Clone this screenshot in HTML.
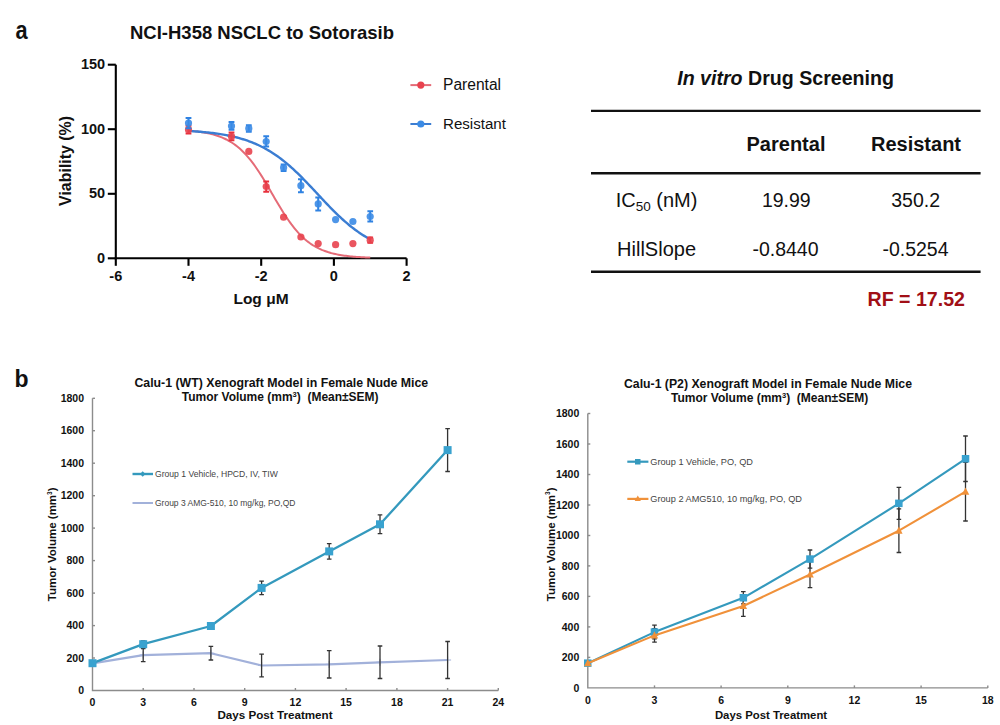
<!DOCTYPE html>
<html><head><meta charset="utf-8"><title>Figure</title>
<style>
html,body{margin:0;padding:0;background:#fff;}
body{width:1000px;height:725px;overflow:hidden;}
svg{display:block;font-family:"Liberation Sans", Arial, sans-serif;}
</style></head><body>
<svg width="1000" height="725" viewBox="0 0 1000 725" fill="#111">
<text transform="translate(15.5 39.3) scale(0.87 1)" font-size="25" font-weight="bold">a</text>
<text x="130" y="38.6" font-size="18.5" font-weight="bold" textLength="264" lengthAdjust="spacingAndGlyphs">NCI-H358 NSCLC to Sotorasib</text>
<g stroke="#000" stroke-width="2.1" fill="none">
<path d="M115.8 64.7 V259.3"/>
<path d="M114.8 258.3 H406.6"/>
<path d="M107.8 64.7 H115.8"/>
<path d="M107.8 129.2 H115.8"/>
<path d="M107.8 193.8 H115.8"/>
<path d="M107.8 258.3 H115.8"/>
<path d="M115.8 258.3 V265.8"/>
<path d="M188.5 258.3 V265.8"/>
<path d="M261.2 258.3 V265.8"/>
<path d="M333.9 258.3 V265.8"/>
<path d="M406.6 258.3 V265.8"/>
</g>
<text x="105.2" y="69.3" font-size="14.5" font-weight="bold" text-anchor="end">150</text>
<text x="105.2" y="133.8" font-size="14.5" font-weight="bold" text-anchor="end">100</text>
<text x="105.2" y="198.3" font-size="14.5" font-weight="bold" text-anchor="end">50</text>
<text x="105.2" y="262.9" font-size="14.5" font-weight="bold" text-anchor="end">0</text>
<text x="115.8" y="281.2" font-size="14.5" font-weight="bold" text-anchor="middle">-6</text>
<text x="188.5" y="281.2" font-size="14.5" font-weight="bold" text-anchor="middle">-4</text>
<text x="261.2" y="281.2" font-size="14.5" font-weight="bold" text-anchor="middle">-2</text>
<text x="333.9" y="281.2" font-size="14.5" font-weight="bold" text-anchor="middle">0</text>
<text x="406.6" y="281.2" font-size="14.5" font-weight="bold" text-anchor="middle">2</text>
<text x="261" y="304.2" font-size="15.5" font-weight="bold" text-anchor="middle">Log μM</text>
<text transform="translate(70.9 160.9) rotate(-90)" font-size="15.8" font-weight="bold" text-anchor="middle" textLength="90" lengthAdjust="spacingAndGlyphs">Viability (%)</text>
<path d="M188.50,130.66 L190.01,130.78 L191.53,130.91 L193.04,131.05 L194.56,131.21 L196.07,131.38 L197.59,131.56 L199.10,131.75 L200.62,131.96 L202.13,132.19 L203.65,132.43 L205.16,132.70 L206.68,132.99 L208.19,133.29 L209.70,133.63 L211.22,133.99 L212.73,134.38 L214.25,134.79 L215.76,135.24 L217.28,135.73 L218.79,136.25 L220.31,136.81 L221.82,137.41 L223.34,138.05 L224.85,138.74 L226.36,139.48 L227.88,140.28 L229.39,141.12 L230.91,142.03 L232.42,143.00 L233.94,144.03 L235.45,145.12 L236.97,146.29 L238.48,147.53 L240.00,148.84 L241.51,150.22 L243.03,151.69 L244.54,153.23 L246.05,154.85 L247.57,156.56 L249.08,158.35 L250.60,160.21 L252.11,162.16 L253.63,164.19 L255.14,166.29 L256.66,168.47 L258.17,170.72 L259.69,173.03 L261.20,175.40 L262.71,177.83 L264.23,180.31 L265.74,182.83 L267.26,185.38 L268.77,187.97 L270.29,190.57 L271.80,193.18 L273.32,195.79 L274.83,198.40 L276.35,200.99 L277.86,203.55 L279.38,206.09 L280.89,208.59 L282.40,211.04 L283.92,213.44 L285.43,215.78 L286.95,218.05 L288.46,220.26 L289.98,222.40 L291.49,224.46 L293.01,226.44 L294.52,228.34 L296.04,230.17 L297.55,231.91 L299.06,233.57 L300.58,235.15 L302.09,236.64 L303.61,238.06 L305.12,239.41 L306.64,240.68 L308.15,241.87 L309.67,243.00 L311.18,244.06 L312.70,245.05 L314.21,245.98 L315.73,246.86 L317.24,247.67 L318.75,248.44 L320.27,249.15 L321.78,249.82 L323.30,250.44 L324.81,251.01 L326.33,251.55 L327.84,252.05 L329.36,252.51 L330.87,252.95 L332.39,253.35 L333.90,253.72 L335.41,254.06 L336.93,254.38 L338.44,254.68 L339.96,254.95 L341.47,255.21 L342.99,255.44 L344.50,255.66 L346.02,255.86 L347.53,256.05 L349.05,256.22 L350.56,256.38 L352.07,256.53 L353.59,256.66 L355.10,256.79 L356.62,256.90 L358.13,257.01 L359.65,257.11 L361.16,257.20 L362.68,257.29 L364.19,257.37 L365.71,257.44 L367.22,257.50 L368.74,257.57 L370.25,257.62" stroke="#e56b77" stroke-width="2" fill="none"/>
<path d="M188.50,130.95 L190.01,131.04 L191.53,131.13 L193.04,131.23 L194.56,131.33 L196.07,131.44 L197.59,131.56 L199.10,131.68 L200.62,131.80 L202.13,131.93 L203.65,132.07 L205.16,132.22 L206.68,132.37 L208.19,132.53 L209.70,132.69 L211.22,132.87 L212.73,133.05 L214.25,133.25 L215.76,133.45 L217.28,133.66 L218.79,133.88 L220.31,134.12 L221.82,134.36 L223.34,134.62 L224.85,134.88 L226.36,135.16 L227.88,135.46 L229.39,135.76 L230.91,136.09 L232.42,136.42 L233.94,136.77 L235.45,137.14 L236.97,137.52 L238.48,137.93 L240.00,138.34 L241.51,138.78 L243.03,139.24 L244.54,139.72 L246.05,140.21 L247.57,140.73 L249.08,141.27 L250.60,141.83 L252.11,142.42 L253.63,143.03 L255.14,143.67 L256.66,144.33 L258.17,145.01 L259.69,145.73 L261.20,146.47 L262.71,147.23 L264.23,148.03 L265.74,148.86 L267.26,149.71 L268.77,150.59 L270.29,151.51 L271.80,152.46 L273.32,153.43 L274.83,154.44 L276.35,155.48 L277.86,156.55 L279.38,157.65 L280.89,158.79 L282.40,159.95 L283.92,161.15 L285.43,162.38 L286.95,163.63 L288.46,164.92 L289.98,166.24 L291.49,167.58 L293.01,168.96 L294.52,170.36 L296.04,171.78 L297.55,173.23 L299.06,174.71 L300.58,176.20 L302.09,177.72 L303.61,179.26 L305.12,180.81 L306.64,182.38 L308.15,183.96 L309.67,185.56 L311.18,187.16 L312.70,188.78 L314.21,190.40 L315.73,192.02 L317.24,193.65 L318.75,195.27 L320.27,196.90 L321.78,198.52 L323.30,200.13 L324.81,201.74 L326.33,203.34 L327.84,204.92 L329.36,206.49 L330.87,208.05 L332.39,209.59 L333.90,211.11 L335.41,212.60 L336.93,214.08 L338.44,215.53 L339.96,216.96 L341.47,218.37 L342.99,219.74 L344.50,221.09 L346.02,222.41 L347.53,223.70 L349.05,224.97 L350.56,226.20 L352.07,227.40 L353.59,228.57 L355.10,229.71 L356.62,230.81 L358.13,231.89 L359.65,232.93 L361.16,233.94 L362.68,234.92 L364.19,235.87 L365.71,236.79 L367.22,237.68 L368.74,238.54 L370.25,239.37" stroke="#3b7dd2" stroke-width="2.4" fill="none"/>
<path d="M188.5 125.8 V133.6 M185.6 125.8 H191.4 M185.6 133.6 H191.4" stroke="#e8303c" stroke-width="2" fill="none"/>
<circle cx="188.5" cy="129.7" r="3.6" fill="#e8424e" fill-opacity="0.9"/>
<path d="M231.5 132.6 V140.3 M228.6 132.6 H234.4 M228.6 140.3 H234.4" stroke="#e8303c" stroke-width="2" fill="none"/>
<circle cx="231.5" cy="136.4" r="3.6" fill="#e8424e" fill-opacity="0.9"/>
<circle cx="248.8" cy="151.4" r="3.6" fill="#e8424e" fill-opacity="0.9"/>
<path d="M266.2 181.4 V191.7 M263.3 181.4 H269.1 M263.3 191.7 H269.1" stroke="#e8303c" stroke-width="2" fill="none"/>
<circle cx="266.2" cy="186.5" r="3.6" fill="#e8424e" fill-opacity="0.9"/>
<circle cx="283.6" cy="217.2" r="3.6" fill="#e8424e" fill-opacity="0.9"/>
<circle cx="300.9" cy="237.0" r="3.6" fill="#e8424e" fill-opacity="0.9"/>
<circle cx="318.2" cy="243.6" r="3.6" fill="#e8424e" fill-opacity="0.9"/>
<circle cx="335.6" cy="244.7" r="3.6" fill="#e8424e" fill-opacity="0.9"/>
<circle cx="352.9" cy="243.6" r="3.6" fill="#e8424e" fill-opacity="0.9"/>
<path d="M370.2 237.6 V242.8 M367.4 237.6 H373.1 M367.4 242.8 H373.1" stroke="#e8303c" stroke-width="2" fill="none"/>
<circle cx="370.2" cy="240.2" r="3.6" fill="#e8424e" fill-opacity="0.9"/>
<path d="M188.5 118.0 V128.3 M185.6 118.0 H191.4 M185.6 128.3 H191.4" stroke="#2f82e2" stroke-width="2" fill="none"/>
<circle cx="188.5" cy="123.1" r="3.6" fill="#3b8be5" fill-opacity="0.9"/>
<path d="M231.5 122.1 V129.8 M228.6 122.1 H234.4 M228.6 129.8 H234.4" stroke="#2f82e2" stroke-width="2" fill="none"/>
<circle cx="231.5" cy="126.0" r="3.6" fill="#3b8be5" fill-opacity="0.9"/>
<path d="M248.8 125.2 V131.7 M245.9 125.2 H251.7 M245.9 131.7 H251.7" stroke="#2f82e2" stroke-width="2" fill="none"/>
<circle cx="248.8" cy="128.4" r="3.6" fill="#3b8be5" fill-opacity="0.9"/>
<path d="M266.2 136.3 V146.6 M263.3 136.3 H269.1 M263.3 146.6 H269.1" stroke="#2f82e2" stroke-width="2" fill="none"/>
<circle cx="266.2" cy="141.5" r="3.6" fill="#3b8be5" fill-opacity="0.9"/>
<path d="M283.6 164.4 V170.9 M280.7 164.4 H286.5 M280.7 170.9 H286.5" stroke="#2f82e2" stroke-width="2" fill="none"/>
<circle cx="283.6" cy="167.7" r="3.6" fill="#3b8be5" fill-opacity="0.9"/>
<path d="M300.9 179.3 V192.2 M298.0 179.3 H303.8 M298.0 192.2 H303.8" stroke="#2f82e2" stroke-width="2" fill="none"/>
<circle cx="300.9" cy="185.7" r="3.6" fill="#3b8be5" fill-opacity="0.9"/>
<path d="M318.2 197.5 V210.4 M315.3 197.5 H321.1 M315.3 210.4 H321.1" stroke="#2f82e2" stroke-width="2" fill="none"/>
<circle cx="318.2" cy="203.9" r="3.6" fill="#3b8be5" fill-opacity="0.9"/>
<circle cx="335.6" cy="219.6" r="3.6" fill="#3b8be5" fill-opacity="0.9"/>
<circle cx="352.9" cy="221.5" r="3.6" fill="#3b8be5" fill-opacity="0.9"/>
<path d="M370.2 211.3 V221.6 M367.4 211.3 H373.1 M367.4 221.6 H373.1" stroke="#2f82e2" stroke-width="2" fill="none"/>
<circle cx="370.2" cy="216.5" r="3.6" fill="#3b8be5" fill-opacity="0.9"/>
<path d="M410.4 85.1 H431.2" stroke="#e56b77" stroke-width="2"/><circle cx="420.8" cy="85.1" r="3.6" fill="#e8424e"/>
<text x="443" y="90.4" font-size="15.6">Parental</text>
<path d="M410.4 124 H431.2" stroke="#3b7dd2" stroke-width="2"/><circle cx="420.8" cy="124" r="3.6" fill="#3b8be5"/>
<text x="443" y="129.2" font-size="15.1">Resistant</text>
<text x="785.6" y="84.8" font-size="19.6" font-weight="bold" text-anchor="middle"><tspan font-style="italic">In vitro</tspan> Drug Screening</text>
<g stroke="#111" stroke-width="2.4"><path d="M591 110.9 H980.6"/><path d="M591 173.2 H980.6"/><path d="M591 271.8 H980.6"/></g>
<text x="786" y="150.7" font-size="20" font-weight="bold" text-anchor="middle">Parental</text>
<text x="916" y="150.7" font-size="20" font-weight="bold" text-anchor="middle">Resistant</text>
<text x="615.7" y="207" font-size="20">IC<tspan font-size="13.5" dy="3.7">50</tspan><tspan dy="-3.7"> (nM)</tspan></text>
<text x="617.1" y="255.7" font-size="20">HillSlope</text>
<text x="786.3" y="206.6" font-size="19.5" text-anchor="middle">19.99</text>
<text x="915.6" y="206.6" font-size="19.5" text-anchor="middle">350.2</text>
<text x="785.5" y="255.5" font-size="19.5" text-anchor="middle">-0.8440</text>
<text x="915.5" y="255.5" font-size="19.5" text-anchor="middle">-0.5254</text>
<text x="965" y="305.9" font-size="19.6" font-weight="bold" text-anchor="end" fill="#a10f16">RF = 17.52</text>
<text x="14.6" y="386.5" font-size="23" font-weight="bold">b</text>
<text x="134.4" y="387.3" font-size="12" font-weight="bold" textLength="293.8" lengthAdjust="spacingAndGlyphs" style="white-space:pre">Calu-1 (WT) Xenograft Model in Female Nude Mice</text>
<text x="181.8" y="401.3" font-size="12" font-weight="bold" textLength="196.8" lengthAdjust="spacingAndGlyphs" style="white-space:pre">Tumor Volume (mm<tspan font-size="7.5" dy="-4">3</tspan><tspan dy="4">)  (Mean±SEM)</tspan></text>
<g stroke="#8c8c8c" stroke-width="1.4" fill="none">
<path d="M92.5 398.3 V690.5 H498.3"/>
<path d="M92.5 658.0 H95.0"/>
<path d="M92.5 625.6 H95.0"/>
<path d="M92.5 593.1 H95.0"/>
<path d="M92.5 560.6 H95.0"/>
<path d="M92.5 528.1 H95.0"/>
<path d="M92.5 495.7 H95.0"/>
<path d="M92.5 463.2 H95.0"/>
<path d="M92.5 430.7 H95.0"/>
<path d="M92.5 398.3 H95.0"/>
<path d="M143.2 690.5 V688.0"/>
<path d="M194.0 690.5 V688.0"/>
<path d="M244.7 690.5 V688.0"/>
<path d="M295.4 690.5 V688.0"/>
<path d="M346.1 690.5 V688.0"/>
<path d="M396.9 690.5 V688.0"/>
<path d="M447.6 690.5 V688.0"/>
<path d="M498.3 690.5 V688.0"/>
</g>
<text x="84.0" y="694.1" font-size="10.5" font-weight="bold" text-anchor="end">0</text>
<text x="84.0" y="661.6" font-size="10.5" font-weight="bold" text-anchor="end">200</text>
<text x="84.0" y="629.2" font-size="10.5" font-weight="bold" text-anchor="end">400</text>
<text x="84.0" y="596.7" font-size="10.5" font-weight="bold" text-anchor="end">600</text>
<text x="84.0" y="564.2" font-size="10.5" font-weight="bold" text-anchor="end">800</text>
<text x="84.0" y="531.8" font-size="10.5" font-weight="bold" text-anchor="end">1000</text>
<text x="84.0" y="499.3" font-size="10.5" font-weight="bold" text-anchor="end">1200</text>
<text x="84.0" y="466.8" font-size="10.5" font-weight="bold" text-anchor="end">1400</text>
<text x="84.0" y="434.3" font-size="10.5" font-weight="bold" text-anchor="end">1600</text>
<text x="84.0" y="401.9" font-size="10.5" font-weight="bold" text-anchor="end">1800</text>
<text x="92.5" y="706.4" font-size="10.5" font-weight="bold" text-anchor="middle">0</text>
<text x="143.2" y="706.4" font-size="10.5" font-weight="bold" text-anchor="middle">3</text>
<text x="194.0" y="706.4" font-size="10.5" font-weight="bold" text-anchor="middle">6</text>
<text x="244.7" y="706.4" font-size="10.5" font-weight="bold" text-anchor="middle">9</text>
<text x="295.4" y="706.4" font-size="10.5" font-weight="bold" text-anchor="middle">12</text>
<text x="346.1" y="706.4" font-size="10.5" font-weight="bold" text-anchor="middle">15</text>
<text x="396.9" y="706.4" font-size="10.5" font-weight="bold" text-anchor="middle">18</text>
<text x="447.6" y="706.4" font-size="10.5" font-weight="bold" text-anchor="middle">21</text>
<text x="498.3" y="706.4" font-size="10.5" font-weight="bold" text-anchor="middle">24</text>
<text x="275" y="719" font-size="11.65" font-weight="bold" text-anchor="middle">Days Post Treatment</text>
<text transform="translate(56 544.3) rotate(-90)" font-size="11.5" font-weight="bold" text-anchor="middle">Tumor Volume (mm<tspan font-size="6.5" dy="-4.2">3</tspan><tspan dy="4.2">)</tspan></text>
<path d="M92.5,663.4 L143.2,655.1 L210.9,653.2 L261.6,665.5 L329.2,664.4 L380.0,662.3 L447.6,660.0" stroke="#a2b1da" stroke-width="2.2" fill="none" stroke-linejoin="round"/>
<path d="M89.0 663.4 H96.0 M92.5 659.9 V666.9" stroke="#a2b1da" stroke-width="1.1"/>
<path d="M139.7 655.1 H146.7 M143.2 651.6 V658.6" stroke="#a2b1da" stroke-width="1.1"/>
<path d="M207.4 653.2 H214.4 M210.9 649.7 V656.7" stroke="#a2b1da" stroke-width="1.1"/>
<path d="M258.1 665.5 H265.1 M261.6 662.0 V669.0" stroke="#a2b1da" stroke-width="1.1"/>
<path d="M325.7 664.4 H332.7 M329.2 660.9 V667.9" stroke="#a2b1da" stroke-width="1.1"/>
<path d="M376.5 662.3 H383.5 M380.0 658.8 V665.8" stroke="#a2b1da" stroke-width="1.1"/>
<path d="M444.1 660.0 H451.1 M447.6 656.5 V663.5" stroke="#a2b1da" stroke-width="1.1"/>
<path d="M143.2 648.6 V661.6 M140.9 648.6 H145.5 M140.9 661.6 H145.5 M210.9 646.3 V660.0 M208.6 646.3 H213.2 M208.6 660.0 H213.2 M261.6 654.1 V676.9 M259.3 654.1 H263.9 M259.3 676.9 H263.9 M329.2 650.7 V678.0 M326.9 650.7 H331.5 M326.9 678.0 H331.5 M380.0 646.0 V678.5 M377.7 646.0 H382.3 M377.7 678.5 H382.3 M447.6 641.5 V678.5 M445.3 641.5 H449.9 M445.3 678.5 H449.9" stroke="#333" stroke-width="1.3" fill="none"/>
<path d="M92.5 661.9 V664.5 M90.2 661.9 H94.8 M90.2 664.5 H94.8 M143.2 641.0 V647.5 M140.9 641.0 H145.5 M140.9 647.5 H145.5 M210.9 622.8 V629.3 M208.6 622.8 H213.2 M208.6 629.3 H213.2 M261.6 581.1 V594.7 M259.3 581.1 H263.9 M259.3 594.7 H263.9 M329.2 543.6 V559.2 M326.9 543.6 H331.5 M326.9 559.2 H331.5 M380.0 514.8 V533.7 M377.7 514.8 H382.3 M377.7 533.7 H382.3 M447.6 428.6 V471.5 M445.3 428.6 H449.9 M445.3 471.5 H449.9" stroke="#333" stroke-width="1.3" fill="none"/>
<path d="M92.5,663.2 L143.2,644.2 L210.9,626.0 L261.6,587.9 L329.2,551.4 L380.0,524.3 L447.6,450.1" stroke="#3499bd" stroke-width="2.3" fill="none" stroke-linejoin="round"/>
<rect x="88.5" y="659.2" width="8" height="8" fill="#39a2cf"/>
<rect x="139.2" y="640.2" width="8" height="8" fill="#39a2cf"/>
<rect x="206.9" y="622.0" width="8" height="8" fill="#39a2cf"/>
<rect x="257.6" y="583.9" width="8" height="8" fill="#39a2cf"/>
<rect x="325.2" y="547.4" width="8" height="8" fill="#39a2cf"/>
<rect x="376.0" y="520.3" width="8" height="8" fill="#39a2cf"/>
<rect x="443.6" y="446.1" width="8" height="8" fill="#39a2cf"/>
<path d="M132.5 474 H153" stroke="#3499bd" stroke-width="2.4"/><path d="M142.7 471.3 L145.4 474 L142.7 476.7 L140 474Z" fill="#3499bd"/>
<text x="155" y="477.2" font-size="8.6" fill="#444">Group 1 Vehicle, HPCD, IV, TIW</text>
<path d="M132.5 503 H153" stroke="#a2b1da" stroke-width="2"/>
<text x="155" y="506.2" font-size="8.6" fill="#444" textLength="140.4" lengthAdjust="spacingAndGlyphs">Group 3 AMG-510, 10 mg/kg, PO,QD</text>
<text x="624" y="387.6" font-size="12" font-weight="bold" textLength="288" lengthAdjust="spacingAndGlyphs" style="white-space:pre">Calu-1 (P2) Xenograft Model in Female Nude Mice</text>
<text x="671" y="402" font-size="12" font-weight="bold" textLength="197.2" lengthAdjust="spacingAndGlyphs" style="white-space:pre">Tumor Volume (mm<tspan font-size="7.5" dy="-4">3</tspan><tspan dy="4">)  (Mean±SEM)</tspan></text>
<g stroke="#8c8c8c" stroke-width="1.4" fill="none">
<path d="M587.8 413.5 V687.9 H987.8"/>
<path d="M587.8 657.4 H590.3"/>
<path d="M587.8 626.9 H590.3"/>
<path d="M587.8 596.4 H590.3"/>
<path d="M587.8 565.9 H590.3"/>
<path d="M587.8 535.5 H590.3"/>
<path d="M587.8 505.0 H590.3"/>
<path d="M587.8 474.5 H590.3"/>
<path d="M587.8 444.0 H590.3"/>
<path d="M587.8 413.5 H590.3"/>
<path d="M654.5 687.9 V685.4"/>
<path d="M721.1 687.9 V685.4"/>
<path d="M787.8 687.9 V685.4"/>
<path d="M854.4 687.9 V685.4"/>
<path d="M921.1 687.9 V685.4"/>
<path d="M987.8 687.9 V685.4"/>
</g>
<text x="579.3" y="691.5" font-size="10.5" font-weight="bold" text-anchor="end">0</text>
<text x="579.3" y="661.0" font-size="10.5" font-weight="bold" text-anchor="end">200</text>
<text x="579.3" y="630.5" font-size="10.5" font-weight="bold" text-anchor="end">400</text>
<text x="579.3" y="600.0" font-size="10.5" font-weight="bold" text-anchor="end">600</text>
<text x="579.3" y="569.5" font-size="10.5" font-weight="bold" text-anchor="end">800</text>
<text x="579.3" y="539.1" font-size="10.5" font-weight="bold" text-anchor="end">1000</text>
<text x="579.3" y="508.6" font-size="10.5" font-weight="bold" text-anchor="end">1200</text>
<text x="579.3" y="478.1" font-size="10.5" font-weight="bold" text-anchor="end">1400</text>
<text x="579.3" y="447.6" font-size="10.5" font-weight="bold" text-anchor="end">1600</text>
<text x="579.3" y="417.1" font-size="10.5" font-weight="bold" text-anchor="end">1800</text>
<text x="587.8" y="703.6" font-size="10.5" font-weight="bold" text-anchor="middle">0</text>
<text x="654.5" y="703.6" font-size="10.5" font-weight="bold" text-anchor="middle">3</text>
<text x="721.1" y="703.6" font-size="10.5" font-weight="bold" text-anchor="middle">6</text>
<text x="787.8" y="703.6" font-size="10.5" font-weight="bold" text-anchor="middle">9</text>
<text x="854.4" y="703.6" font-size="10.5" font-weight="bold" text-anchor="middle">12</text>
<text x="921.1" y="703.6" font-size="10.5" font-weight="bold" text-anchor="middle">15</text>
<text x="987.8" y="703.6" font-size="10.5" font-weight="bold" text-anchor="middle">18</text>
<text x="771" y="719" font-size="11.35" font-weight="bold" text-anchor="middle">Days Post Treatment</text>
<text transform="translate(554.5 544.3) rotate(-90)" font-size="11.5" font-weight="bold" text-anchor="middle">Tumor Volume (mm<tspan font-size="6.5" dy="-4.2">3</tspan><tspan dy="4.2">)</tspan></text>
<path d="M587.8 662.0 V664.4 M585.5 662.0 H590.1 M585.5 664.4 H590.1 M654.5 625.2 V638.9 M652.2 625.2 H656.8 M652.2 638.9 H656.8 M743.3 591.7 V603.8 M741.0 591.7 H745.6 M741.0 603.8 H745.6 M810.0 550.0 V568.2 M807.7 550.0 H812.3 M807.7 568.2 H812.3 M898.9 487.4 V519.3 M896.6 487.4 H901.2 M896.6 519.3 H901.2 M965.5 436.0 V481.5 M963.2 436.0 H967.8 M963.2 481.5 H967.8" stroke="#333" stroke-width="1.3" fill="none"/>
<path d="M587.8 662.0 V664.4 M585.5 662.0 H590.1 M585.5 664.4 H590.1 M654.5 628.6 V642.2 M652.2 628.6 H656.8 M652.2 642.2 H656.8 M743.3 595.5 V616.4 M741.0 595.5 H745.6 M741.0 616.4 H745.6 M810.0 561.5 V587.6 M807.7 561.5 H812.3 M807.7 587.6 H812.3 M898.9 508.8 V552.5 M896.6 508.8 H901.2 M896.6 552.5 H901.2 M965.5 462.4 V521.0 M963.2 462.4 H967.8 M963.2 521.0 H967.8" stroke="#333" stroke-width="1.3" fill="none"/>
<path d="M587.8,663.2 L654.5,632.1 L743.3,597.8 L810.0,559.1 L898.9,503.4 L965.5,458.8" stroke="#3499bd" stroke-width="2.1" fill="none" stroke-linejoin="round"/>
<rect x="584.0" y="659.4" width="7.5" height="7.5" fill="#39a2cf"/>
<rect x="650.7" y="628.3" width="7.5" height="7.5" fill="#39a2cf"/>
<rect x="739.6" y="594.0" width="7.5" height="7.5" fill="#39a2cf"/>
<rect x="806.2" y="555.3" width="7.5" height="7.5" fill="#39a2cf"/>
<rect x="895.1" y="499.6" width="7.5" height="7.5" fill="#39a2cf"/>
<rect x="961.8" y="455.0" width="7.5" height="7.5" fill="#39a2cf"/>
<path d="M587.8,663.2 L654.5,635.4 L743.3,606.0 L810.0,574.5 L898.9,530.7 L965.5,491.7" stroke="#f0913a" stroke-width="2.1" fill="none" stroke-linejoin="round"/>
<path d="M587.8 659.0 L591.5 666.2 L584.0 666.2Z" fill="#f0913a"/>
<path d="M654.5 631.3 L658.2 638.4 L650.7 638.4Z" fill="#f0913a"/>
<path d="M743.3 601.8 L747.1 609.0 L739.6 609.0Z" fill="#f0913a"/>
<path d="M810.0 570.4 L813.8 577.5 L806.2 577.5Z" fill="#f0913a"/>
<path d="M898.9 526.6 L902.6 533.7 L895.1 533.7Z" fill="#f0913a"/>
<path d="M965.5 487.6 L969.3 494.7 L961.8 494.7Z" fill="#f0913a"/>
<path d="M627.3 461.7 H648.4" stroke="#3499bd" stroke-width="2.2"/><rect x="635" y="459" width="5.5" height="5.5" fill="#3499bd"/>
<text x="650.3" y="465" font-size="9.2" fill="#444">Group 1 Vehicle, PO, QD</text>
<path d="M627.3 498.9 H648.4" stroke="#f0913a" stroke-width="2.2"/><path d="M637.8 495.6 L640.9 501 L634.7 501Z" fill="#f0913a"/>
<text x="650.3" y="502.2" font-size="9.2" fill="#444">Group 2 AMG510, 10 mg/kg, PO, QD</text>
</svg>
</body></html>
